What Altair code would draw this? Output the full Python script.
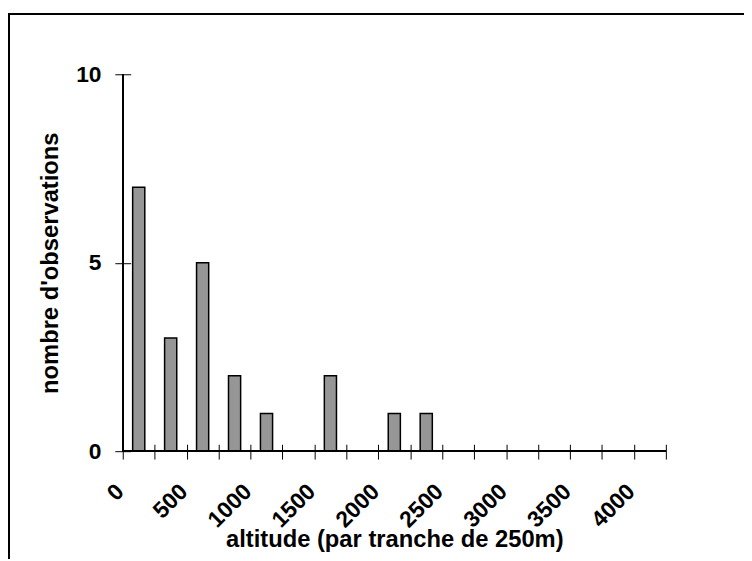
import altair as alt
import pandas as pd

# ---- data ----
altitudes = [0, 250, 500, 750, 1000, 1250, 1500, 1750, 2000, 2250,
             2500, 2750, 3000, 3250, 3500, 3750, 4000]
counts = [7, 3, 5, 2, 1, 0, 2, 0, 1, 1, 0, 0, 0, 0, 0, 0, 0]
y_ticks = [0, 5, 10]
x_title = "altitude (par tranche de 250m)"
y_title = "nombre d'observations"

df = pd.DataFrame({"altitude": altitudes, "n": counts})

FONT = "Liberation Sans"
W, H = 549, 381

x_scale = alt.Scale(domain=altitudes, paddingInner=0, paddingOuter=0)
y_scale = alt.Scale(domain=[0, 10])

x_axis = alt.Axis(
    title=x_title,
    labelAngle=-45, labelAlign="right", labelBaseline="top",
    labelExpr="datum.value % 500 === 0 ? datum.label : ''",
    labelOffset=-27, labelPadding=21,
    tickBand="extent", tickSize=15, tickColor="black", tickWidth=1,
    offset=-7, domain=False, grid=False,
    labelFont=FONT, labelFontSize=23, labelFontWeight="bold", labelColor="black",
    titleFont=FONT, titleFontSize=24, titleFontWeight="bold", titleColor="black",
    titleX=W / 2, titleY=103, titleBaseline="alphabetic", titleAlign="center",
)
y_axis = alt.Axis(
    title=y_title, values=y_ticks,
    tickSize=16, tickColor="black", tickWidth=1,
    offset=-8, domain=False, grid=False,
    labelPadding=14, labelBaseline="middle",
    labelFont=FONT, labelFontSize=23, labelFontWeight="bold", labelColor="black",
    titleFont=FONT, titleFontSize=24, titleFontWeight="bold", titleColor="black",
    titleAngle=-90, titleX=-74, titleY=H / 2, titleBaseline="alphabetic",
    titleAlign="center",
)

base = alt.Chart(df)

frame = base.mark_rect(fillOpacity=0, stroke="black", strokeWidth=2).encode(
    x=alt.value(-115), x2=alt.value(900), y=alt.value(-61), y2=alt.value(900)
)

bars = base.mark_bar(
    fill="#969696", stroke="black", strokeWidth=1.5,
    width=alt.RelativeBandSize(0.38),
).encode(
    x=alt.X("altitude:O", scale=x_scale, axis=x_axis),
    y=alt.Y("n:Q", scale=y_scale, axis=y_axis),
).transform_filter("datum.n > 0")

x_line = base.mark_rule(color="black", strokeWidth=1).encode(y=alt.datum(0))
y_line = base.mark_rule(color="black", strokeWidth=1).encode(
    x=alt.value(0), y=alt.datum(0), y2=alt.datum(10)
)

chart = alt.layer(frame, bars, x_line, y_line).properties(
    width=W, height=H,
    autosize=alt.AutoSizeParams(type="none"),
    padding={"left": 116, "top": 64, "right": 79, "bottom": 106},
).configure_view(stroke=None)

chart.save("out.html", embed_options={"renderer": "svg", "actions": False})
